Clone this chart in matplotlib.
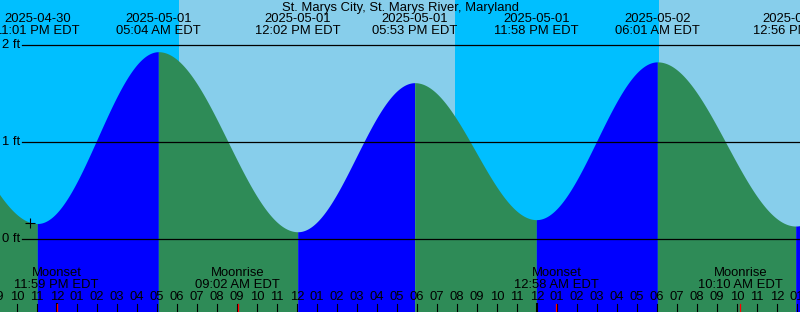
import numpy as np
import pandas as pd
import matplotlib.pyplot as plt
from matplotlib.transforms import blended_transform_factory

plt.rcParams['font.family'] = ['Liberation Sans', 'DejaVu Sans']
FS = 9.4

title = 'St. Marys City, St. Marys River, Maryland'

# tide extremes (first and last are just outside the window, estimated)
tide_times = ['2025-04-30 16:50', '2025-04-30 23:01', '2025-05-01 05:04', '2025-05-01 12:02',
              '2025-05-01 17:53', '2025-05-01 23:58', '2025-05-02 06:01', '2025-05-02 12:56',
              '2025-05-02 19:05']
tide_levels = [1.57, 0.16, 1.935, 0.075, 1.615, 0.20, 1.83, 0.134, 1.65]

# sun: night -> day -> night -> day
sun_times = ['2025-05-01 06:06', '2025-05-01 19:54', '2025-05-02 06:06']

moon_times = ['2025-04-30 23:59', '2025-05-01 09:02', '2025-05-02 00:58', '2025-05-02 10:10']
moon_events = ['Moonset', 'Moonrise', 'Moonset', 'Moonrise']

level_ticks = [0, 1, 2]
marker_time = '2025-04-30 22:39'
marker_level = 0.168

origin = pd.Timestamp('2025-05-01 00:00')


def hrs(ts):
    return (pd.Timestamp(ts) - origin) / pd.Timedelta(hours=1)


# pixel layout: midnight at px 57, 20 px per hour; 0 ft at px 239, 96.8 px per ft
W, H = 800, 312
x_lo, x_hi = -57 / 20, (W - 57) / 20
y_lo, y_hi = (239 - H) / 96.8, 239 / 96.8

fig = plt.figure(figsize=(8, 3.12), dpi=100)
ax = fig.add_axes([0, 0, 1, 1])
ax.set_xlim(x_lo, x_hi)
ax.set_ylim(y_lo, y_hi)
ax.axis('off')
tr = blended_transform_factory(ax.transData, fig.transFigure)


def fy(py):
    return 1 - py / H


# sky background
sun_h = [hrs(t) for t in sun_times]
edges = [x_lo] + sun_h + [x_hi]
sky = ['#00BFFF', '#87CEEB']
for i in range(len(edges) - 1):
    ax.axvspan(edges[i], edges[i + 1], color=sky[i % 2], lw=0, zorder=0)

# water curve, cosine shape between extremes
th = [hrs(t) for t in tide_times]
for i in range(len(th) - 1):
    t = np.linspace(th[i], th[i + 1], 200)
    f = (t - th[i]) / (th[i + 1] - th[i])
    lev = tide_levels[i] + (tide_levels[i + 1] - tide_levels[i]) * (1 - np.cos(np.pi * f)) / 2
    col = '#0000FF' if tide_levels[i + 1] > tide_levels[i] else '#2E8B57'
    ax.fill_between(t, y_lo, lev, color=col, lw=0, zorder=1)

# level lines
for lv in level_ticks:
    ax.plot([(22 - 57) / 20, x_hi], [lv, lv], color='black', lw=0.9, zorder=2)
    ax.text((20 - 57) / 20, lv, f'{lv} ft', ha='right', va='center', fontsize=FS, zorder=3)

ax.plot(hrs(marker_time), marker_level, marker='+', color='black', ms=7, mew=0.8, zorder=3)

fig.text(0.5, fy(8), title, ha='center', va='center', fontsize=FS)

# high/low labels
for t in tide_times[1:-1]:
    ts = pd.Timestamp(t)
    ax.text(hrs(t), fy(19), ts.strftime('%Y-%m-%d'), transform=tr, ha='center', va='center', fontsize=FS)
    ax.text(hrs(t), fy(31), ts.strftime('%I:%M %p') + ' EDT', transform=tr, ha='center', va='center', fontsize=FS)

# hour ticks and labels
hours = np.arange(-3, 38)
for h in hours:
    lw = 1.5 if h % 24 == 0 else 0.8
    ax.plot([h, h], [fy(304), fy(312)], transform=tr, color='black', lw=lw, zorder=3)
    lab = (origin + pd.Timedelta(hours=int(h))).strftime('%I')
    ax.text(h, fy(297), lab, transform=tr, ha='center', va='center', fontsize=FS, zorder=3)

# moon events
for t, ev in zip(moon_times, moon_events):
    mh = hrs(t)
    ax.plot([mh, mh], [fy(304), fy(312)], transform=tr, color='red', lw=0.9, zorder=4)
    ax.text(mh, fy(273), ev, transform=tr, ha='center', va='center', fontsize=FS, zorder=3)
    ax.text(mh, fy(285), pd.Timestamp(t).strftime('%I:%M %p') + ' EDT', transform=tr,
            ha='center', va='center', fontsize=FS, zorder=3)

fig.savefig('out.png', dpi=100)
